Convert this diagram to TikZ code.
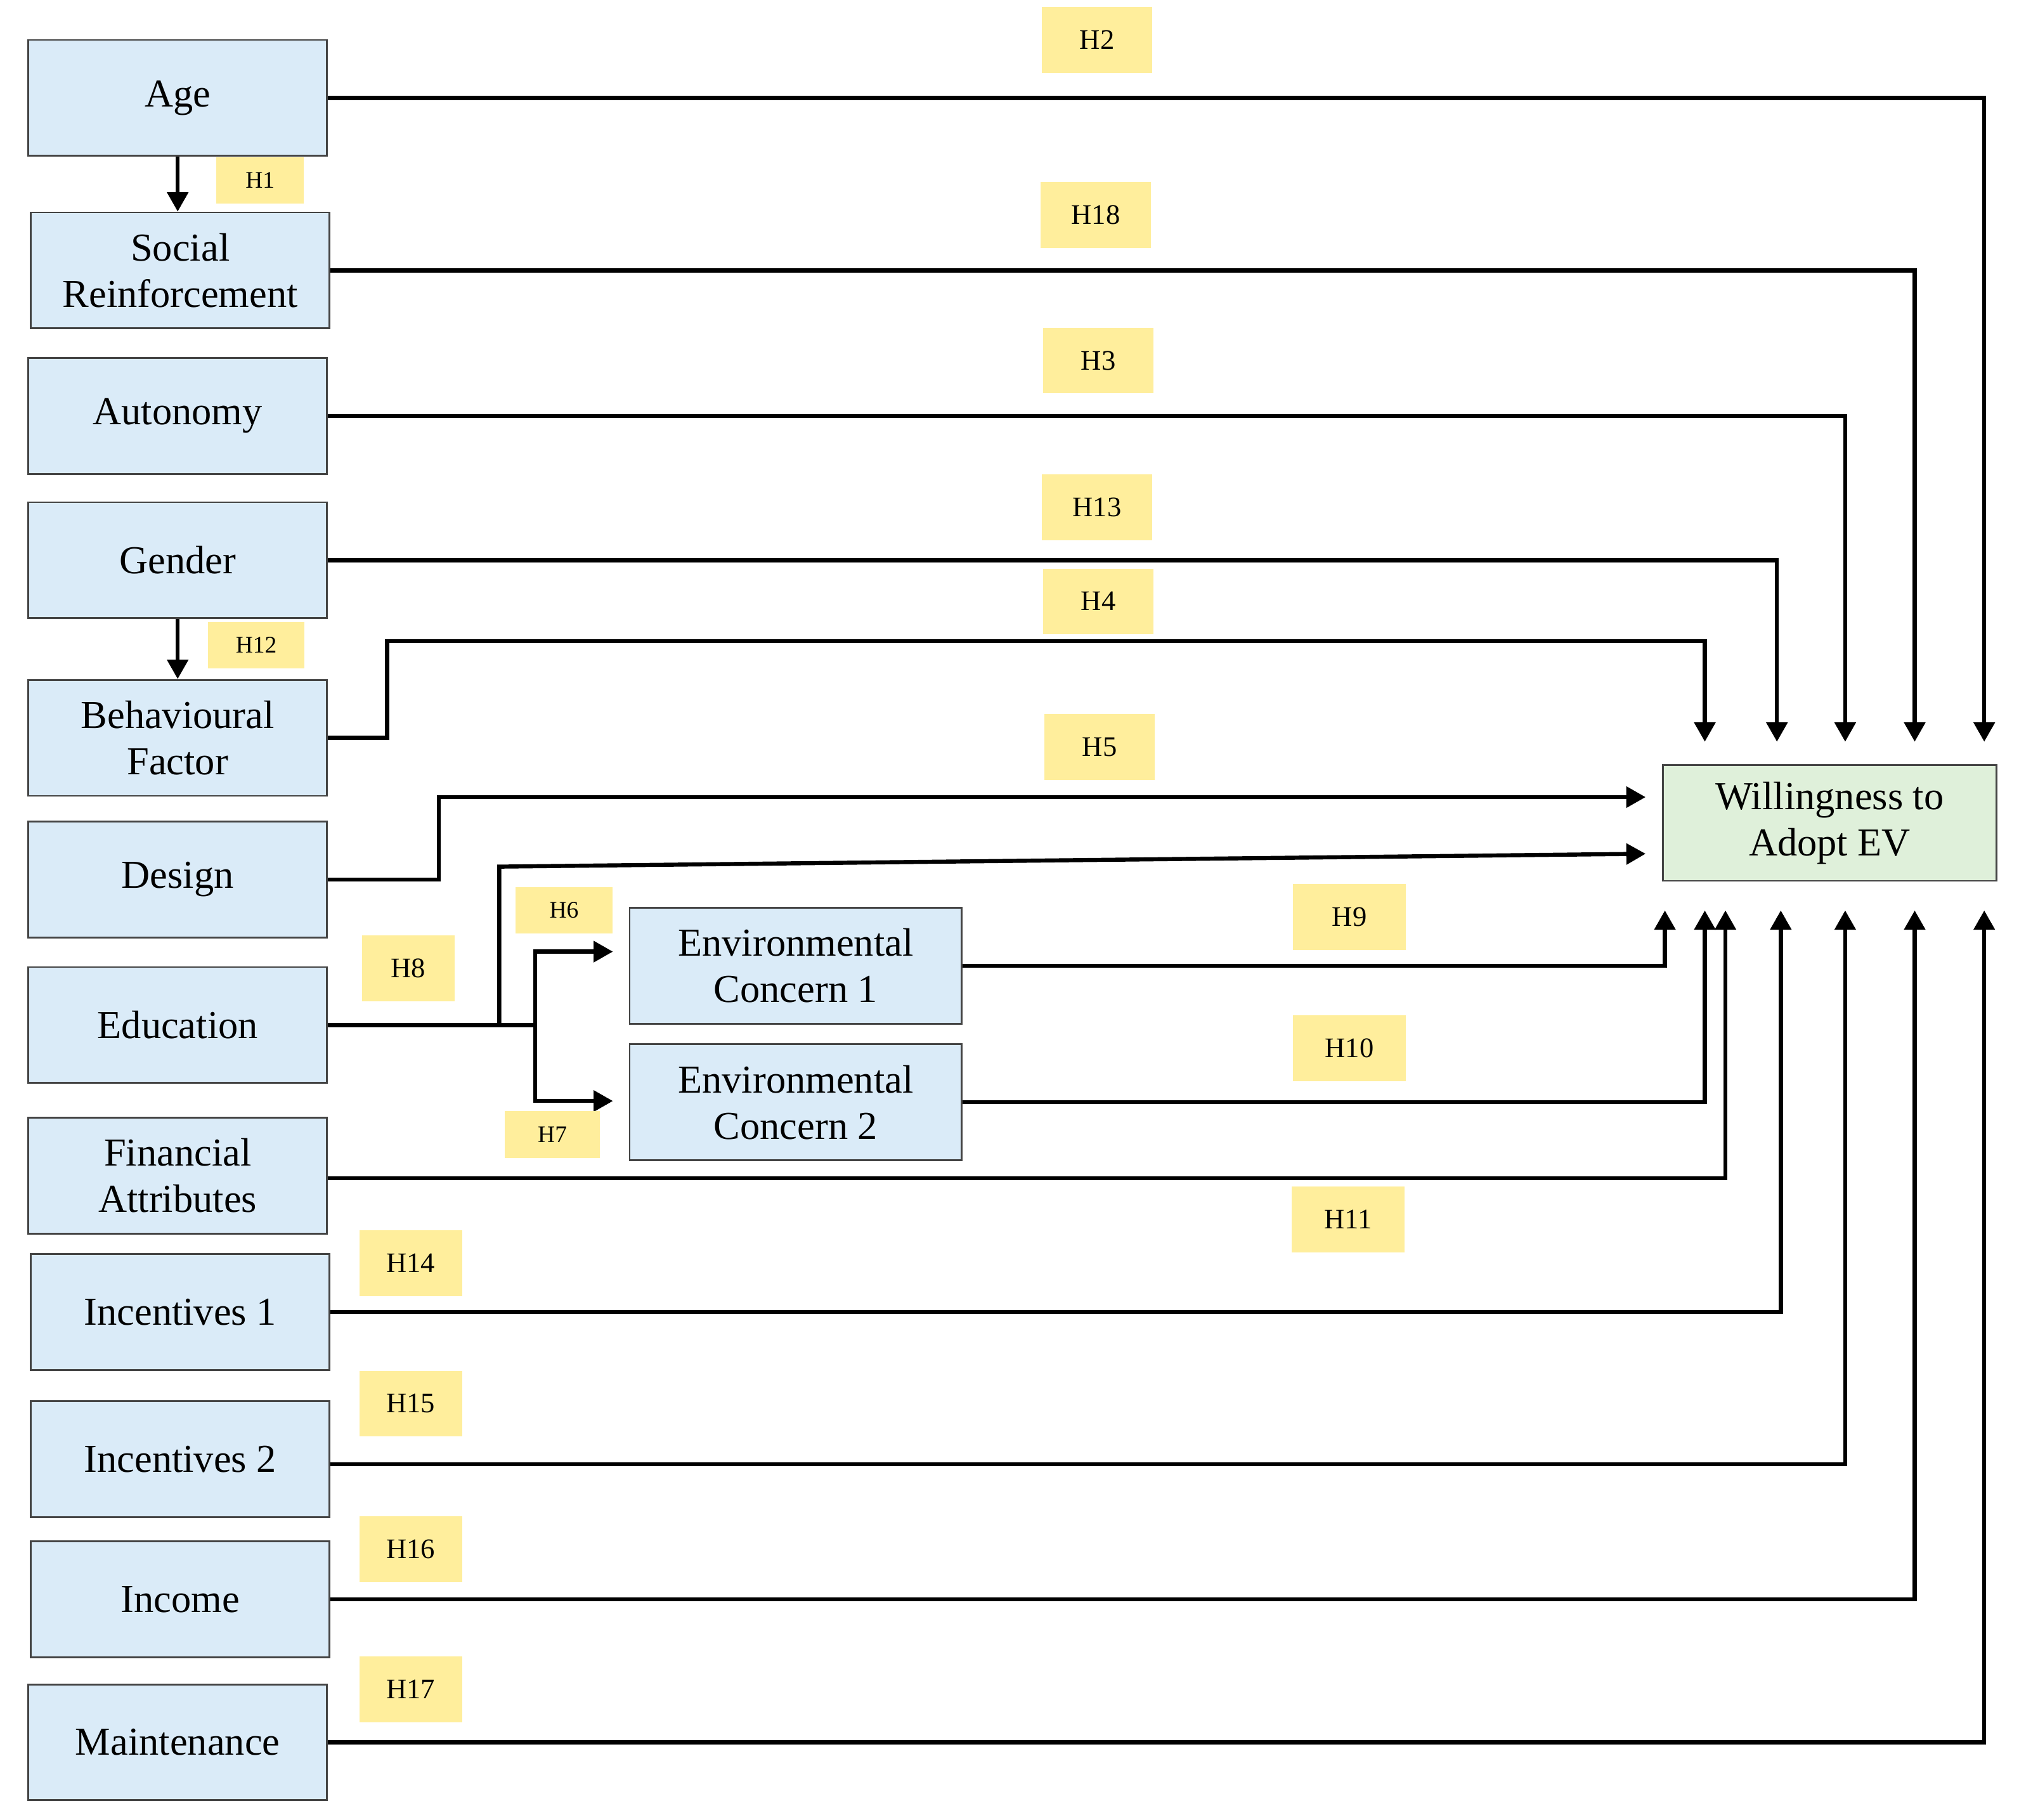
\documentclass[tikz,border=0pt]{standalone}
\usepackage{fontspec}
\setmainfont{Liberation Serif}
\usepackage{xcolor}
\usepackage{tikz}
\usetikzlibrary{positioning, arrows.meta, calc}
\definecolor{boxblue}{HTML}{DAEBF8}
\definecolor{boxgreen}{HTML}{DFF0DA}
\definecolor{hypyellow}{HTML}{FFEE9C}
\definecolor{boxline}{HTML}{444444}
\newcommand{\boxfont}{\fontsize{17.5}{20.5}\selectfont}
\newcommand{\hypfont}{\fontsize{12.5}{14}\selectfont}
\newcommand{\hypsmallfont}{\fontsize{10.5}{12}\selectfont}

\begin{document}
\begin{tikzpicture}[x=0.2mm, y=-0.2mm]

	\tikzstyle{factor}=[rectangle, draw=boxline, line width=0.8pt, fill=boxblue, minimum width=46.4mm, minimum height=18mm, align=center, font=\boxfont, inner sep=0pt]
	\tikzstyle{envbox}=[factor, minimum width=51.6mm]
	\tikzstyle{target}=[factor, fill=boxgreen, minimum width=51.8mm]
	\tikzstyle{hyp}=[rectangle, fill=hypyellow, minimum width=17.2mm, minimum height=10.2mm, inner sep=0pt, font=\hypfont]
	\tikzstyle{hypsmall}=[hyp, minimum width=14.4mm, minimum height=7.2mm, font=\hypsmallfont]
	\tikzstyle{conn}=[line width=1.8pt, line join=miter, -{Triangle[length=3mm, width=3.2mm]}]

	\useasboundingbox (0,0) rectangle (1568,1413);

	% predictors
	\node (age) at (138,76) [factor] {Age};
	\node (soc) at (140,210) [factor] {Social\\Reinforcement};
	\node (aut) at (138,323) [factor] {Autonomy};
	\node (gen) at (138,435) [factor] {Gender};
	\node (beh) at (138,573) [factor] {Behavioural\\Factor};
	\node (des) at (138,683) [factor] {Design};
	\node (edu) at (138,796) [factor] {Education};
	\node (fin) at (138,913) [factor] {Financial\\Attributes};
	\node (inc1) at (140,1019) [factor] {Incentives 1};
	\node (inc2) at (140,1133) [factor] {Incentives 2};
	\node (inm) at (140,1242) [factor] {Income};
	\node (mnt) at (138,1353) [factor] {Maintenance};

	\node (ec1) at (618,750) [envbox] {Environmental\\Concern 1};
	\node (ec2) at (618,856) [envbox] {Environmental\\Concern 2};

	\node (wil) at (1421,639) [target] {Willingness to\\Adopt EV};

	% arrow ends round the target
	\coordinate (t1) at (1324,576);
	\coordinate (t2) at (1380,576);
	\coordinate (t3) at (1433,576);
	\coordinate (t4) at (1487,576);
	\coordinate (t5) at (1541,576);
	\coordinate (l1) at (1278,619);
	\coordinate (l2) at (1278,663);
	\coordinate (b0) at (1293,707);
	\coordinate (b1) at (1324,707);
	\coordinate (b2) at (1340,707);
	\coordinate (b3) at (1383,707);
	\coordinate (b4) at (1433,707);
	\coordinate (b5) at (1487,707);
	\coordinate (b6) at (1541,707);
	\coordinate (e1) at (476,739);
	\coordinate (e2) at (476,855);

	\draw [conn] (age.south) -- (age.south |- soc.north);
	\draw [conn] (gen.south) -- (gen.south |- beh.north);

	\draw [conn] (age.east) -| (t5);
	\draw [conn] (soc.east) -| (t4);
	\draw [conn] (aut.east) -| (t3);
	\draw [conn] (gen.east) -| (t2);
	\draw [conn] (beh.east) -- ++(46,0) -- ++(0,-75) -| (t1);
	\draw [conn] (des.east) -- ++(86,0) |- (l1);
	\draw [conn] (edu.east) -- ++(133,0) -- ++(0,-123) -- (l2);
	\draw [conn] (edu.east) -- ++(161,0) |- (e1);
	\draw [conn] (edu.east) -- ++(161,0) |- (e2);

	\draw [conn] (ec1.east) -| (b0);
	\draw [conn] (ec2.east) -| (b1);
	\draw [conn] (fin.east) ++(0,2) -| (b2);
	\draw [conn] (inc1.east) -| (b3);
	\draw [conn] (inc2.east) ++(0,4) -| (b4);
	\draw [conn] (inm.east) -| (b5);
	\draw [conn] (mnt.east) -| (b6);

	% hypothesis labels
	\node (h1) at (202,140) [hypsmall, minimum width=13.6mm] {H1};
	\node (h12) at (199,501) [hypsmall, minimum width=15mm] {H12};
	\node (h6) at (438,707) [hypsmall, minimum width=15mm] {H6};
	\node (h7) at (429,881) [hypsmall, minimum width=14.8mm] {H7};
	\node (h2) at (852,31) [hyp] {H2};
	\node (h18) at (851,167) [hyp] {H18};
	\node (h3) at (853,280) [hyp] {H3};
	\node (h13) at (852,394) [hyp] {H13};
	\node (h4) at (853,467) [hyp] {H4};
	\node (h5) at (854,580) [hyp] {H5};
	\node (h8) at (317,752) [hyp, minimum width=14.4mm] {H8};
	\node (h9) at (1048,712) [hyp, minimum width=17.6mm] {H9};
	\node (h10) at (1048,814) [hyp, minimum width=17.6mm] {H10};
	\node (h11) at (1047,947) [hyp, minimum width=17.6mm] {H11};
	\node (h14) at (319,981) [hyp, minimum width=16mm] {H14};
	\node (h15) at (319,1090) [hyp, minimum width=16mm] {H15};
	\node (h16) at (319,1203) [hyp, minimum width=16mm] {H16};
	\node (h17) at (319,1312) [hyp, minimum width=16mm] {H17};
\end{tikzpicture}
\end{document}
